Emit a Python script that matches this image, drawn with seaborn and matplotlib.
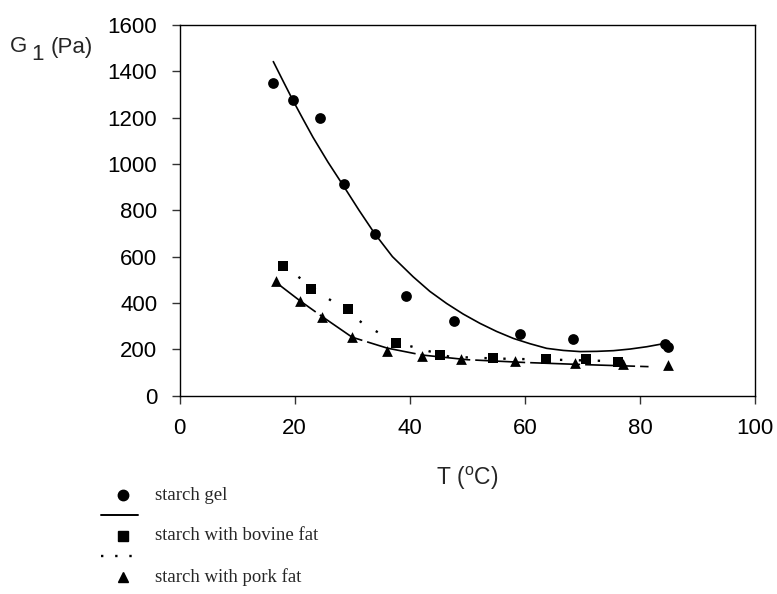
import numpy as np
import pandas as pd
import matplotlib
matplotlib.use("Agg")
import matplotlib.pyplot as plt
from matplotlib.lines import Line2D
import seaborn as sns

# measured points
gel_T = [16.3, 19.7, 24.4, 28.5, 33.9, 39.3, 47.7, 59.2, 68.4, 84.3, 84.8]
gel_G = [1348, 1275, 1200, 915, 698, 429, 322, 265, 244, 222, 210]

bov_T = [17.9, 22.9, 29.3, 37.7, 45.3, 54.4, 63.7, 70.6, 76.2]
bov_G = [561, 462, 373, 225, 176, 164, 157, 157, 146]

pork_T = [16.7, 20.9, 24.8, 30.0, 36.1, 42.2, 48.9, 58.3, 68.8, 77.0, 84.8]
pork_G = [496, 410, 341, 251, 192, 172, 158, 149, 139, 136, 132]

# fitted curves
gel_fit_T = [16.3, 18.0, 19.7, 21.5, 23.2, 25.8, 28.5, 31.2, 33.9, 37.0, 40.6, 43.5,
             46.4, 49.3, 52.2, 55.1, 58.0, 60.9, 63.8, 66.7, 69.6, 72.5, 75.4, 78.3, 81.2, 84.5]
gel_fit_G = [1442, 1358, 1275, 1192, 1115, 1008, 905, 800, 700, 600, 513, 450,
             398, 352, 312, 277, 247, 224, 204, 195, 190, 191, 194, 201, 211, 226]

bov_fit_T = [18.0, 20.2, 25.1, 27.7, 32.4, 34.8, 39.7, 46.9, 55.0, 65.0, 77.0]
bov_fit_G = [560, 521, 431, 388, 302, 269, 216, 168, 160, 155, 148]

pork_fit_T = [16.7, 20.9, 24.8, 30.0, 36.1, 42.2, 50.0, 60.0, 70.0, 81.5]
pork_fit_G = [490, 410, 341, 252, 205, 175, 155, 143, 134, 125]

legend_labels = ["starch gel", "starch with bovine fat", "starch with pork fat"]

sns.set_style("ticks")
plt.rcParams['font.family'] = ['Liberation Sans', 'DejaVu Sans']

W, H = 777, 594
fig = plt.figure(figsize=(W / 100, H / 100), dpi=100)
ax = fig.add_axes([179.5 / W, 1 - 395.6 / H, (755 - 179.5) / W, (395.6 - 25) / H])

sns.lineplot(x=gel_fit_T, y=gel_fit_G, ax=ax, color="black", lw=1.2, sort=False)
sns.lineplot(x=bov_fit_T, y=bov_fit_G, ax=ax, color="black", lw=1.7,
             linestyle=(0, (1, 7)), sort=False)
sns.lineplot(x=pork_fit_T, y=pork_fit_G, ax=ax, color="black", lw=1.2,
             linestyle=(0, (30, 3)), sort=False)

sns.scatterplot(x=gel_T, y=gel_G, ax=ax, color="black", marker="o", s=60, edgecolor="black", linewidth=0)
sns.scatterplot(x=bov_T, y=bov_G, ax=ax, color="black", marker="s", s=48, edgecolor="black", linewidth=0)
sns.scatterplot(x=pork_T, y=pork_G, ax=ax, color="black", marker="^", s=60, edgecolor="black", linewidth=0)

ax.set_xlim(0, 100)
ax.set_ylim(0, 1600)
ax.set_xticks(range(0, 101, 20))
ax.set_yticks(range(0, 1601, 200))
ax.tick_params(direction="out", length=6, width=1, colors="#333333", labelcolor="black",
               labelsize=16, pad=10)
for s in ax.spines.values():
    s.set_visible(True)
    s.set_color("black")
    s.set_linewidth(1.0)

def px(x, y):
    return x / W, 1 - y / H

# axis labels
fig.text(*px(10, 47), "G", fontsize=16, ha="left", va="center")
fig.text(*px(31, 55), "1", fontsize=16, ha="left", va="center")
fig.text(*px(51, 47), "(Pa)", fontsize=16, ha="left", va="center")
fig.text(*px(467, 478), r"T ($^{\mathregular{o}}$C)", fontsize=16.5, ha="center", va="center")

# legend
serif = ['Liberation Serif', 'DejaVu Serif']
rows_y = [495, 536, 577]
mk = ["o", "s", "^"]
for yy, m, lab in zip(rows_y, mk, legend_labels):
    fig.add_artist(Line2D([123 / W], [1 - yy / H], marker=m, color="black", ms=7.5 if m != "s" else 7,
                          linestyle="none", transform=fig.transFigure))
    fig.text(*px(155, yy), lab, fontsize=13.5, family=serif, ha="left", va="center")
fig.add_artist(Line2D([101 / W, 138 / W], [1 - 515 / H] * 2, color="black", lw=1.4,
                      transform=fig.transFigure))
fig.add_artist(Line2D([101 / W, 133 / W], [1 - 556 / H] * 2, color="black", lw=1.7,
                      linestyle=(0, (1, 5)), transform=fig.transFigure))

fig.savefig("out.png", dpi=100)
